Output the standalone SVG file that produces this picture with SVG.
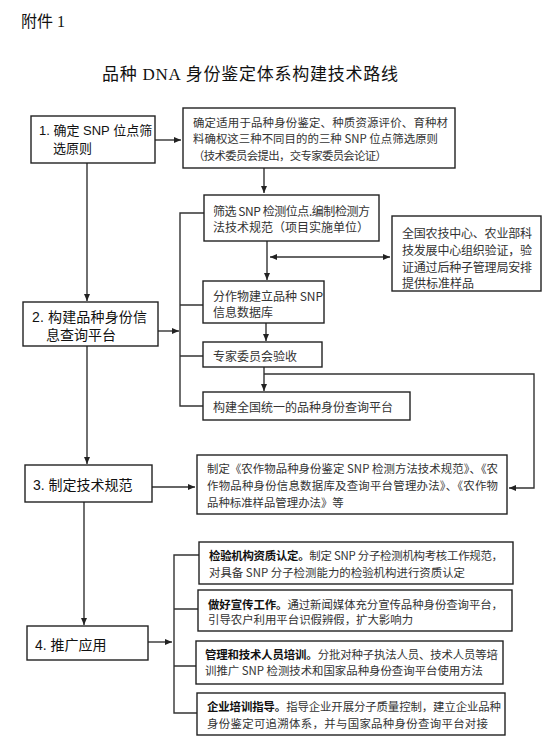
<svg xmlns="http://www.w3.org/2000/svg" width="550" height="740" viewBox="0 0 550 740">
<style>
.box{fill:#fff;stroke:#222;stroke-width:1.4}
.ln{fill:none;stroke:#333;stroke-width:1.4}
.lbl{font-family:"Liberation Sans","Noto Sans CJK SC",sans-serif;font-size:14px;fill:#111;dominant-baseline:central}
.lbl1{font-family:"Liberation Sans","Noto Sans CJK SC",sans-serif;font-size:13px;fill:#111;dominant-baseline:central}
.t{font-family:"Noto Sans CJK SC",sans-serif;font-size:12px;fill:#333;dominant-baseline:central}
.s{font-family:"Noto Sans CJK SC",sans-serif;font-size:11.4px;fill:#333;dominant-baseline:central}
.b{font-weight:bold;fill:#111}
</style>
<defs>
<marker id="ah" markerUnits="userSpaceOnUse" markerWidth="8" markerHeight="8" refX="7" refY="4" orient="auto-start-reverse">
<path d="M0,1 L7,4 L0,7 Z" fill="#222"/>
</marker>
</defs>
<text x="21" y="21" font-family="'Liberation Serif','Noto Sans CJK SC',serif" font-size="16" fill="#111" dominant-baseline="central">附件 1</text>
<text x="102" y="74" font-family="'Liberation Serif','Noto Sans CJK SC',serif" font-size="17" fill="#111" dominant-baseline="central" textLength="296">品种 DNA 身份鉴定体系构建技术路线</text>

<g id="connectors">
<line class="ln" x1="155" y1="140" x2="181" y2="140" marker-end="url(#ah)"/>
<line class="ln" x1="264" y1="168" x2="264" y2="193" marker-end="url(#ah)"/>
<line class="ln" x1="87" y1="163" x2="87" y2="301" marker-end="url(#ah)"/>
<line class="ln" x1="267" y1="241" x2="267" y2="280" marker-end="url(#ah)"/>
<line class="ln" x1="270" y1="257" x2="390" y2="257" stroke-width="2" marker-start="url(#ah)" marker-end="url(#ah)"/>
<line class="ln" x1="158" y1="331" x2="179" y2="331" marker-end="url(#ah)"/>
<path class="ln" d="M204,213 H180 V406 H203 M180,305 H203 M180,356 H203"/>
<line class="ln" x1="266" y1="323" x2="266" y2="341" marker-end="url(#ah)"/>
<line class="ln" x1="264" y1="367" x2="264" y2="391" marker-end="url(#ah)"/>
<path class="ln" d="M264,374 H534 V488 H509" marker-end="url(#ah)"/>
<line class="ln" x1="87" y1="346" x2="87" y2="464" marker-end="url(#ah)"/>
<line class="ln" x1="152" y1="487" x2="195" y2="487" marker-end="url(#ah)"/>
<line class="ln" x1="84" y1="502" x2="84" y2="625" marker-end="url(#ah)"/>
<line class="ln" x1="148" y1="642" x2="172" y2="642" marker-end="url(#ah)"/>
<path class="ln" d="M199,555 H174 V713 H197 M174,609 H198 M174,666 H196"/>
</g>

<g id="n1">
<rect class="box" x="31" y="116" width="124" height="47"/>
<text class="lbl1" x="39" y="130">1. 确定 SNP 位点筛</text>
<text class="lbl1" x="53" y="148">选原则</text>
</g>
<g id="n1a">
<rect class="box" x="183" y="108" width="272" height="60"/>
<text class="s" x="193" y="122" textLength="255">确定适用于品种身份鉴定、种质资源评价、育种材</text>
<text class="s" x="193" y="138" textLength="245">料确权这三种不同目的的三种 SNP 位点筛选原则</text>
<text class="s" x="193" y="155" textLength="194">（技术委员会提出，交专家委员会论证）</text>
</g>
<g id="n2a">
<rect class="box" x="204" y="195" width="175" height="46"/>
<text class="t" x="213" y="210" textLength="157">筛选 SNP 检测位点.编制检测方</text>
<text class="t" x="213" y="226">法技术规范（项目实施单位）</text>
</g>
<g id="n2v">
<rect class="box" x="392" y="216" width="149" height="75"/>
<text class="t" x="402" y="232" textLength="130">全国农技中心、农业部科</text>
<text class="t" x="402" y="249" textLength="130">技发展中心组织验证，验</text>
<text class="t" x="402" y="266" textLength="130">证通过后种子管理局安排</text>
<text class="t" x="402" y="282">提供标准样品</text>
</g>
<g id="n2b">
<rect class="box" x="203" y="281" width="121" height="42"/>
<text class="t" x="213" y="295">分作物建立品种 SNP</text>
<text class="t" x="213" y="311">信息数据库</text>
</g>
<g id="n2c">
<rect class="box" x="203" y="342" width="119" height="25"/>
<text class="t" x="213" y="355">专家委员会验收</text>
</g>
<g id="n2d">
<rect class="box" x="203" y="392" width="207" height="28"/>
<text class="t" x="213" y="406">构建全国统一的品种身份查询平台</text>
</g>
<g id="n2">
<rect class="box" x="23" y="302" width="135" height="44"/>
<text class="lbl" x="32" y="317" textLength="115">2. 构建品种身份信</text>
<text class="lbl" x="46" y="335">息查询平台</text>
</g>
<g id="n3">
<rect class="box" x="25" y="465" width="127" height="37"/>
<text class="lbl" x="33" y="485">3. 制定技术规范</text>
</g>
<g id="n3a">
<rect class="box" x="197" y="455" width="310" height="59"/>
<text class="s" x="207" y="468" textLength="291">制定《农作物品种身份鉴定 SNP 检测方法技术规范》、《农</text>
<text class="s" x="207" y="485" textLength="291">作物品种身份信息数据库及查询平台管理办法》、《农作物</text>
<text class="s" x="207" y="502">品种标准样品管理办法》等</text>
</g>
<g id="n4">
<rect class="box" x="27" y="626" width="121" height="34"/>
<text class="lbl" x="35" y="645">4. 推广应用</text>
</g>
<g id="n4a">
<rect class="box" x="199" y="542" width="314" height="42"/>
<text class="s" x="209" y="555" textLength="294"><tspan class="b">检验机构资质认定。</tspan>制定 SNP 分子检测机构考核工作规范，</text>
<text class="s" x="209" y="572" textLength="256">对具备 SNP 分子检测能力的检验机构进行资质认定</text>
</g>
<g id="n4b">
<rect class="box" x="198" y="590" width="314" height="41"/>
<text class="s" x="208" y="604" textLength="295"><tspan class="b">做好宣传工作。</tspan>通过新闻媒体充分宣传品种身份查询平台，</text>
<text class="s" x="208" y="619">引导农户利用平台识假辨假，扩大影响力</text>
</g>
<g id="n4c">
<rect class="box" x="196" y="641" width="307" height="43"/>
<text class="s" x="205" y="654" textLength="293"><tspan class="b">管理和技术人员培训。</tspan>分批对种子执法人员、技术人员等培</text>
<text class="s" x="205" y="670" textLength="278">训推广 SNP 检测技术和国家品种身份查询平台使用方法</text>
</g>
<g id="n4d">
<rect class="box" x="197" y="693" width="308" height="42"/>
<text class="s" x="207" y="706" textLength="294"><tspan class="b">企业培训指导。</tspan>指导企业开展分子质量控制，建立企业品种</text>
<text class="s" x="207" y="723" textLength="281">身份鉴定可追溯体系，并与国家品种身份查询平台对接</text>
</g>
</svg>
